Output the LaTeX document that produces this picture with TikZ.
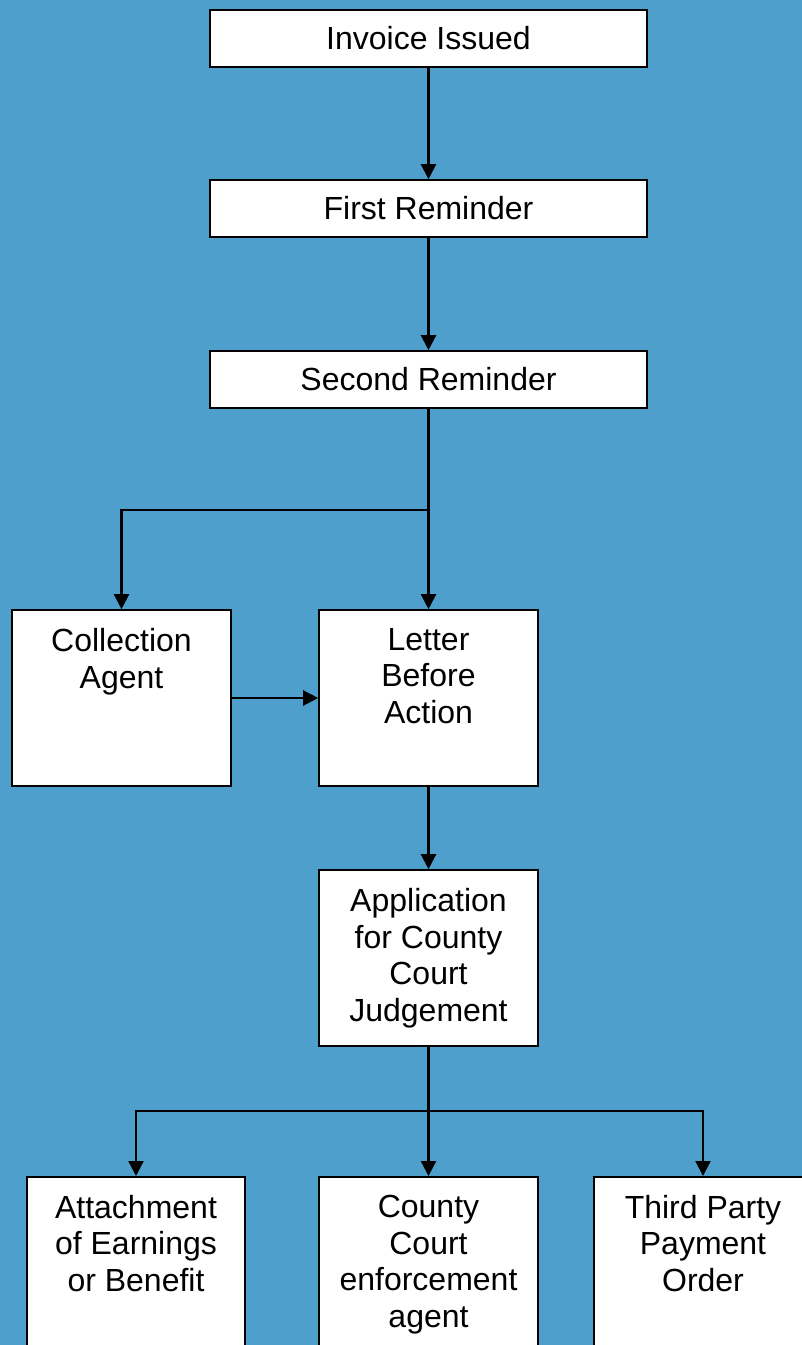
\documentclass[tikz,border=0pt]{standalone}
\usepackage{fontspec}
\setmainfont{Liberation Sans}
\usetikzlibrary{arrows.meta}
\definecolor{bg}{RGB}{79,159,205}
\tikzset{
  box/.style={draw=black, fill=white, line width=1.6pt, inner sep=0pt},
  txt/.style={font=\fontsize{32}{36.5}\selectfont, align=center, inner sep=0pt, anchor=north},
  arr/.style={line width=2.2pt, -{Triangle[width=15pt,length=15pt]}},
  ln/.style={line width=2.2pt}
}
\begin{document}
\begin{tikzpicture}[x=1pt,y=-1pt]
\useasboundingbox (0,0) rectangle (802,1345);
\clip (0,0) rectangle (802,1345);
\fill[bg] (0,0) rectangle (802,1345);
% single-line boxes
\node[box, minimum width=437pt, minimum height=57pt, font=\fontsize{32}{36.5}\selectfont] (inv) at (428.5,38.5) {Invoice Issued};
\node[box, minimum width=437pt, minimum height=57pt, font=\fontsize{32}{36.5}\selectfont] (fr) at (428.5,208.5) {First Reminder};
\node[box, minimum width=437pt, minimum height=57pt, font=\fontsize{32}{36.5}\selectfont] (sr) at (428.5,379.5) {Second Reminder};
% tall boxes
\node[box, minimum width=219pt, minimum height=176pt] (ca) at (121.5,698) {};
\node[box, minimum width=219pt, minimum height=176pt] (lba) at (428.5,698) {};
\node[box, minimum width=219pt, minimum height=176pt] (app) at (428.5,958) {};
\node[box, minimum width=218pt, minimum height=200pt, anchor=north] (att) at (136,1176) {};
\node[box, minimum width=219pt, minimum height=200pt, anchor=north] (ccea) at (428.5,1176) {};
\node[box, minimum width=218pt, minimum height=200pt, anchor=north] (tpp) at (703,1176) {};
% texts
\node[txt] (tca) at ([yshift=-19pt]ca.north) {Collection\\Agent};
\node[txt] (tlba) at ([yshift=-19pt]lba.north) {Letter\\Before\\Action};
\node[txt] (tapp) at ([yshift=-19pt]app.north) {Application\\for County\\Court\\Judgement};
\node[txt] (tatt) at ([yshift=-19pt]att.north) {Attachment\\of Earnings\\or Benefit};
\node[txt] (tccea) at ([yshift=-19pt]ccea.north) {County\\Court\\enforcement\\agent};
\node[txt] (ttpp) at ([yshift=-19pt]tpp.north) {Third Party\\Payment\\Order};
% connectors
\coordinate (j1) at (428.5,510);
\coordinate (j2) at (428.5,1111);
\draw[arr] (inv) -- (fr);
\draw[arr] (fr) -- (sr);
\draw[ln] (sr.south) -- (j1);
\draw[arr] (j1) -- (lba.north);
\draw[arr] (j1) -| (ca.north);
\draw[arr] (ca.east |- 0,698) -- (lba.west);
\draw[arr] (lba) -- (app);
\draw[ln] (app.south) -- (j2);
\draw[arr] (j2) -- (ccea.north);
\draw[arr] (j2) -| (att.north);
\draw[arr] (j2) -| (tpp.north);
\end{tikzpicture}
\end{document}
